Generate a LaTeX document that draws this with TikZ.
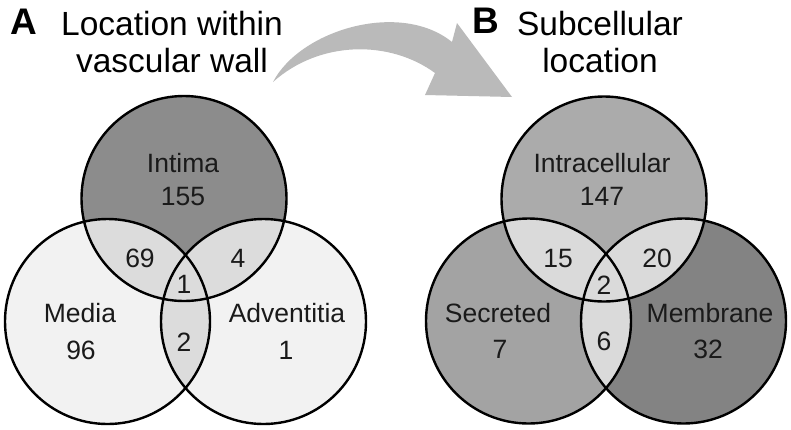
\documentclass[tikz,border=0pt]{standalone}
\usepackage{fontspec}
\setmainfont{Liberation Sans}
\definecolor{txt}{HTML}{1A1A1A}
\definecolor{intima}{HTML}{8C8C8C}
\definecolor{light}{HTML}{F2F2F2}
\definecolor{lensA}{HTML}{DCDCDC}
\definecolor{intra}{HTML}{ABABAB}
\definecolor{secr}{HTML}{A3A3A3}
\definecolor{memb}{HTML}{838383}
\definecolor{lensB}{HTML}{DADADA}
\definecolor{arrowc}{HTML}{BABABA}
\begin{document}
\begin{tikzpicture}[x=1pt,y=-1pt,
  lbl/.style={font=\fontsize{26.5}{30}\selectfont, text=txt, anchor=base, inner sep=0pt},
  ttl/.style={font=\fontsize{33.5}{36}\selectfont, text=black, anchor=base, inner sep=0pt},
  letter/.style={font=\fontsize{37}{40}\selectfont\bfseries, text=black, anchor=base, inner sep=0pt},
  ring/.style={draw=black, line width=2.4pt}]
\useasboundingbox (0,0) rectangle (791,429);
\def\R{102.5pt}
% centres
\coordinate (IT) at (184,198.5);
\coordinate (ME) at (107.5,321.5);
\coordinate (AD) at (263.5,321.5);
\coordinate (IC) at (604,199);
\coordinate (SE) at (528.5,321);
\coordinate (MB) at (683.5,321);
% arrow
\fill[arrowc] (273,82) .. controls (300,30) and (400,0) .. (452,42)
  -- (457,23) -- (512,97) -- (425,95) -- (435,73)
  .. controls (390,40) and (320,40) .. (273,82) -- cycle;
% ---- panel A fills
\fill[intima] (IT) circle[radius=\R];
\fill[light] (ME) circle[radius=\R];
\fill[light] (AD) circle[radius=\R];
\begin{scope}
  \clip (IT) circle[radius=\R];
  \fill[lensA] (ME) circle[radius=\R];
  \fill[lensA] (AD) circle[radius=\R];
\end{scope}
\begin{scope}
  \clip (ME) circle[radius=\R];
  \fill[lensA] (AD) circle[radius=\R];
\end{scope}
\draw[ring] (IT) circle[radius=\R];
\draw[ring] (ME) circle[radius=\R];
\draw[ring] (AD) circle[radius=\R];
% ---- panel B fills
\fill[intra] (IC) circle[radius=\R];
\fill[secr] (SE) circle[radius=\R];
\fill[memb] (MB) circle[radius=\R];
\begin{scope}
  \clip (IC) circle[radius=\R];
  \fill[lensB] (SE) circle[radius=\R];
  \fill[lensB] (MB) circle[radius=\R];
\end{scope}
\begin{scope}
  \clip (SE) circle[radius=\R];
  \fill[lensB] (MB) circle[radius=\R];
\end{scope}
\draw[ring] (IC) circle[radius=\R];
\draw[ring] (SE) circle[radius=\R];
\draw[ring] (MB) circle[radius=\R];
% ---- titles
\node[letter] (la) at (23.5,34) {A};
\node[ttl] (ta1) at (172,35) {Location within};
\node[ttl] (ta2) at (172,72) {vascular wall};
\node[letter] (lb) at (486,33) {B};
\node[ttl] (tb1) at (600,35) {Subcellular};
\node[ttl] (tb2) at (600,72) {location};
% ---- panel A labels
\node[lbl] (n1) at (183,172) {Intima};
\node[lbl] (n2) at (183,205) {155};
\node[lbl] (n3) at (140,267) {69};
\node[lbl] (n4) at (238,267) {4};
\node[lbl] (n5) at (184,293) {1};
\node[lbl] (n6) at (80,322) {Media};
\node[lbl] (n7) at (81,359) {96};
\node[lbl] (n8) at (184,351) {2};
\node[lbl] (n9) at (287,322) {Adventitia};
\node[lbl] (n10) at (286,359) {1};
% ---- panel B labels
\node[lbl] (m1) at (602,172) {Intracellular};
\node[lbl] (m2) at (602,205) {147};
\node[lbl] (m3) at (558,267) {15};
\node[lbl] (m4) at (657,267) {20};
\node[lbl] (m5) at (604,294) {2};
\node[lbl] (m6) at (498,322) {Secreted};
\node[lbl] (m7) at (500,358) {7};
\node[lbl] (m8) at (604,350) {6};
\node[lbl] (m9) at (710,322) {Membrane};
\node[lbl] (m10) at (708,358) {32};
\end{tikzpicture}
\end{document}
